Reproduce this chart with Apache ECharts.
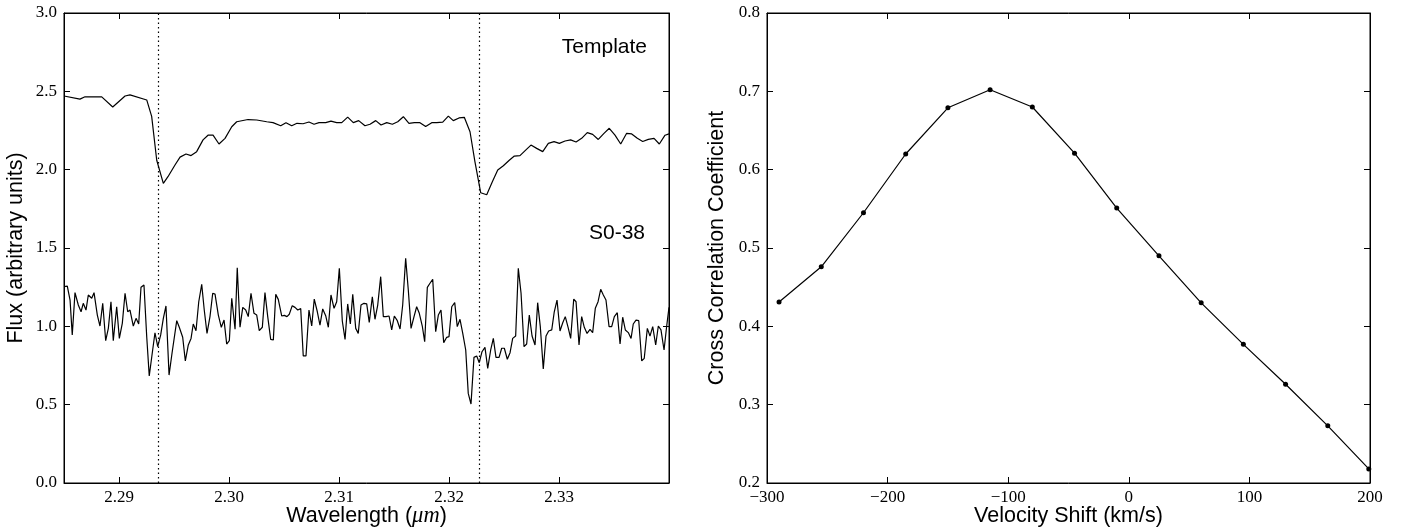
<!DOCTYPE html>
<html>
<head>
<meta charset="utf-8">
<script src="https://cdn.jsdelivr.net/npm/echarts@6/dist/echarts.min.js"></script>
<style>html,body{margin:0;padding:0;background:#fff}#c{width:1401px;height:529px}</style>
</head>
<body>
<div id="c"></div>
<script>
// ---- Left panel: spectra ----
const templateWave = [2.28500,2.28645,2.28691,2.28843,2.28943,2.29055,2.29100,2.29252,2.29297,2.29343,2.29403,2.29445,2.29509,2.29555,2.29609,2.29655,2.29706,2.29764,2.29809,2.29855,2.29909,2.29964,2.30025,2.30070,2.30173,2.30252,2.30343,2.30400,2.30470,2.30518,2.30570,2.30618,2.30673,2.30727,2.30773,2.30818,2.30879,2.30927,2.30979,2.31025,2.31079,2.31130,2.31179,2.31236,2.31282,2.31334,2.31382,2.31434,2.31485,2.31534,2.31585,2.31636,2.31685,2.31736,2.31788,2.31843,2.31888,2.31943,2.31994,2.32039,2.32091,2.32139,2.32191,2.32236,2.32288,2.32343,2.32394,2.32443,2.32494,2.32548,2.32594,2.32645,2.32697,2.32745,2.32797,2.32852,2.32903,2.32955,2.33003,2.33055,2.33106,2.33155,2.33206,2.33257,2.33306,2.33357,2.33409,2.33457,2.33509,2.33561,2.33615,2.33661,2.33712,2.33761,2.33812,2.33864,2.33912,2.33964,2.34000];
const templateFlux = [2.47,2.45,2.465,2.465,2.40,2.47,2.477,2.445,2.34,2.06,1.913,1.955,2.03,2.08,2.10,2.09,2.115,2.19,2.22,2.22,2.164,2.20,2.274,2.306,2.32,2.317,2.306,2.30,2.28,2.30,2.28,2.296,2.293,2.304,2.29,2.30,2.30,2.31,2.30,2.30,2.335,2.30,2.313,2.28,2.29,2.313,2.285,2.30,2.29,2.306,2.338,2.296,2.30,2.30,2.275,2.30,2.30,2.304,2.342,2.313,2.33,2.334,2.242,2.05,1.853,1.84,1.923,1.998,2.025,2.06,2.087,2.09,2.125,2.157,2.136,2.115,2.168,2.179,2.168,2.183,2.19,2.177,2.20,2.236,2.225,2.193,2.232,2.264,2.22,2.164,2.232,2.228,2.20,2.18,2.193,2.20,2.164,2.22,2.228];

const s038Wave = [2.28500,2.28530,2.28555,2.28575,2.28600,2.28630,2.28655,2.28675,2.28700,2.28721,2.28752,2.28773,2.28803,2.28827,2.28852,2.28879,2.28903,2.28927,2.28948,2.28979,2.29003,2.29030,2.29055,2.29079,2.29100,2.29130,2.29155,2.29179,2.29200,2.29227,2.29252,2.29275,2.29306,2.29327,2.29352,2.29379,2.29403,2.29427,2.29455,2.29482,2.29525,2.29548,2.29579,2.29603,2.29630,2.29655,2.29675,2.29700,2.29725,2.29752,2.29775,2.29800,2.29827,2.29852,2.29873,2.29903,2.29930,2.29955,2.29979,2.30003,2.30025,2.30055,2.30075,2.30100,2.30125,2.30152,2.30175,2.30200,2.30227,2.30252,2.30275,2.30303,2.30327,2.30352,2.30379,2.30403,2.30425,2.30448,2.30479,2.30503,2.30527,2.30548,2.30575,2.30600,2.30625,2.30652,2.30675,2.30700,2.30727,2.30752,2.30775,2.30803,2.30827,2.30852,2.30879,2.30903,2.30927,2.30955,2.30979,2.31003,2.31030,2.31055,2.31079,2.31103,2.31125,2.31152,2.31175,2.31200,2.31227,2.31252,2.31275,2.31303,2.31327,2.31352,2.31379,2.31403,2.31427,2.31455,2.31479,2.31503,2.31530,2.31555,2.31579,2.31606,2.31630,2.31655,2.31682,2.31706,2.31730,2.31757,2.31779,2.31803,2.31827,2.31852,2.31879,2.31903,2.31927,2.31952,2.31979,2.32000,2.32025,2.32052,2.32075,2.32100,2.32125,2.32152,2.32175,2.32200,2.32227,2.32252,2.32275,2.32300,2.32327,2.32352,2.32379,2.32403,2.32427,2.32455,2.32479,2.32503,2.32530,2.32555,2.32579,2.32606,2.32630,2.32655,2.32682,2.32706,2.32730,2.32755,2.32782,2.32806,2.32830,2.32857,2.32882,2.32906,2.32934,2.32957,2.32982,2.33009,2.33034,2.33057,2.33085,2.33106,2.33134,2.33155,2.33182,2.33206,2.33230,2.33255,2.33282,2.33306,2.33330,2.33355,2.33379,2.33403,2.33427,2.33455,2.33479,2.33503,2.33530,2.33555,2.33579,2.33603,2.33630,2.33655,2.33675,2.33700,2.33725,2.33752,2.33775,2.33803,2.33827,2.33852,2.33879,2.33903,2.33927,2.33955,2.33979,2.34000];
const s038Flux = [1.253,1.257,1.168,0.945,1.215,1.136,1.093,1.147,1.104,1.20,1.179,1.215,1.072,1.002,1.147,0.908,0.987,1.157,0.908,1.125,0.923,1.019,1.211,1.093,1.104,1.002,1.051,1.015,1.249,1.264,0.934,0.683,0.849,0.959,0.870,0.945,1.051,1.130,0.689,0.828,1.036,0.994,0.930,0.779,0.881,0.923,1.015,0.972,1.157,1.268,1.104,0.955,1.062,1.211,1.206,1.072,0.994,1.040,0.887,0.908,1.179,0.981,1.374,0.994,1.121,1.104,1.062,1.211,1.083,1.072,0.972,0.994,1.215,1.062,0.917,0.913,1.204,1.172,1.066,1.070,1.062,1.077,1.132,1.121,1.104,1.113,0.811,0.811,1.104,1.002,1.174,1.093,1.008,1.111,1.068,0.994,1.20,1.115,1.157,1.370,1.034,0.917,1.143,1.015,1.204,0.987,0.955,1.136,1.147,1.143,1.025,1.189,1.045,1.136,1.317,1.062,1.062,1.066,0.977,1.066,1.036,0.983,1.136,1.434,1.232,0.987,1.062,1.125,1.083,1.002,0.902,1.249,1.275,1.300,0.966,1.072,1.104,0.896,0.930,0.934,1.125,1.151,0.998,1.045,0.955,0.849,0.572,0.504,0.802,0.811,0.768,0.838,0.866,0.732,0.849,0.923,0.802,0.802,0.860,0.860,0.790,0.832,0.923,0.938,1.370,1.211,0.870,0.887,1.072,0.938,0.881,1.151,0.998,0.728,0.938,0.970,0.977,1.093,1.168,0.970,1.023,1.062,0.987,0.923,1.174,1.157,0.881,1.062,0.994,0.955,0.981,0.960,1.115,1.157,1.236,1.20,1.168,0.998,0.998,1.062,1.087,0.887,1.058,0.977,0.960,0.923,1.015,1.040,1.036,0.779,0.796,0.987,0.938,0.998,0.881,1.002,0.977,0.849,1.002,1.121];

const lineWaves = [2.29355, 2.32273];
const waveTicks = [2.29, 2.30, 2.31, 2.32, 2.33];
const spectrumLabels = ['Template', 'S0-38'];

// ---- Right panel: cross correlation ----
const velShift = [-290, -255, -220, -185, -150, -115, -80, -45, -10, 25, 60, 95, 130, 165, 199];
const ccCoef = [0.431, 0.476, 0.545, 0.620, 0.679, 0.702, 0.680, 0.621, 0.551, 0.490, 0.430, 0.377, 0.326, 0.273, 0.218];

const serif = '"Liberation Serif", "DejaVu Serif", serif';
const sans = '"Liberation Sans", Arial, sans-serif';
const tickFont = {fontFamily: serif, fontSize: 17, color: '#000'};
const blk = {color: '#000', width: 1};
const titleFont = {fontFamily: sans, fontSize: 21.5, color: '#000'};

function minusFmt(v){ return v < 0 ? '\u2212' + Math.abs(v) : String(v); }

function baseAxis(extra){
  return Object.assign({
    type: 'value',
    nameMoveOverlap: false,
    axisLine: {show: true, onZero: false, lineStyle: blk},
    axisTick: {show: true, inside: true, length: 6, lineStyle: blk},
    splitLine: {show: false}
  }, extra);
}

const chart = echarts.init(document.getElementById('c'), null, {renderer: 'canvas'});

const option = {
  animation: false,
  backgroundColor: '#fff',
  grid: [
    {left: 64, top: 13, width: 605, height: 470, outerBoundsMode: 'none', containLabel: false, show: true, borderColor: '#000', borderWidth: 1},
    {left: 767, top: 13, width: 603, height: 470, outerBoundsMode: 'none', containLabel: false, show: true, borderColor: '#000', borderWidth: 1}
  ],
  xAxis: [
    baseAxis({gridIndex: 0, min: 2.285, max: 2.34, position: 'bottom',
     axisTick: {show: true, inside: true, length: 6, customValues: waveTicks, lineStyle: blk},
     axisLabel: Object.assign({customValues: waveTicks, margin: 6, formatter: v => v.toFixed(2)}, tickFont),
     name: 'Wavelength ({i|μm})', nameLocation: 'middle', nameGap: 22,
     nameTextStyle: Object.assign({verticalAlign: 'top', rich: {i: {fontFamily: serif, fontStyle: 'italic', fontSize: 22.5, color: '#000'}}}, titleFont)}),
    baseAxis({gridIndex: 0, min: 2.285, max: 2.34, position: 'top',
     axisTick: {show: true, inside: true, length: 6, customValues: waveTicks, lineStyle: blk},
     axisLabel: {show: false}}),
    baseAxis({gridIndex: 1, min: -300, max: 200, interval: 100, position: 'bottom',
     axisLabel: Object.assign({margin: 6, formatter: minusFmt}, tickFont),
     name: 'Velocity Shift (km/s)', nameLocation: 'middle', nameGap: 22,
     nameTextStyle: Object.assign({verticalAlign: 'top'}, titleFont)}),
    baseAxis({gridIndex: 1, min: -300, max: 200, interval: 100, position: 'top',
     axisLabel: {show: false}})
  ],
  yAxis: [
    baseAxis({gridIndex: 0, min: 0, max: 3, interval: 0.5, position: 'left',
     axisLabel: Object.assign({margin: 7, formatter: v => v.toFixed(1)}, tickFont),
     name: 'Flux (arbitrary units)', nameLocation: 'middle', nameGap: 37,
     nameTextStyle: titleFont}),
    baseAxis({gridIndex: 0, min: 0, max: 3, interval: 0.5, position: 'right',
     axisLabel: {show: false}}),
    baseAxis({gridIndex: 1, min: 0.2, max: 0.8, interval: 0.1, position: 'left',
     axisLabel: Object.assign({margin: 7, formatter: v => v.toFixed(1)}, tickFont),
     name: 'Cross Correlation Coefficient', nameLocation: 'middle', nameGap: 39,
     nameTextStyle: titleFont}),
    baseAxis({gridIndex: 1, min: 0.2, max: 0.8, interval: 0.1, position: 'right',
     axisLabel: {show: false}})
  ],
  series: [
    {type: 'line', xAxisIndex: 0, yAxisIndex: 0, showSymbol: false, symbol: 'none',
     data: templateWave.map((w, i) => [w, templateFlux[i]]),
     lineStyle: {color: '#000', width: 1.2}, silent: true, clip: true,
     markLine: {silent: true, symbol: 'none', precision: 5, label: {show: false},
       lineStyle: {color: '#000', type: [1.5, 3], width: 1.2},
       data: lineWaves.map(w => ({xAxis: w}))}},
    {type: 'line', xAxisIndex: 0, yAxisIndex: 0, showSymbol: false, symbol: 'none',
     data: s038Wave.map((w, i) => [w, s038Flux[i]]),
     lineStyle: {color: '#000', width: 1.2}, silent: true, clip: true},
    {type: 'line', xAxisIndex: 2, yAxisIndex: 2, symbol: 'circle', symbolSize: 5, showSymbol: true,
     data: velShift.map((v, i) => [v, ccCoef[i]]),
     itemStyle: {color: '#000'}, lineStyle: {color: '#000', width: 1.2}, silent: true, clip: false}
  ],
  graphic: [
    {type: 'text', right: 1401 - 647, top: 37, style: {text: spectrumLabels[0], font: '21px ' + sans, fill: '#000'}},
    {type: 'text', right: 1401 - 645, top: 223, style: {text: spectrumLabels[1], font: '21px ' + sans, fill: '#000'}}
  ]
};
chart.setOption(option);
</script>
</body>
</html>
